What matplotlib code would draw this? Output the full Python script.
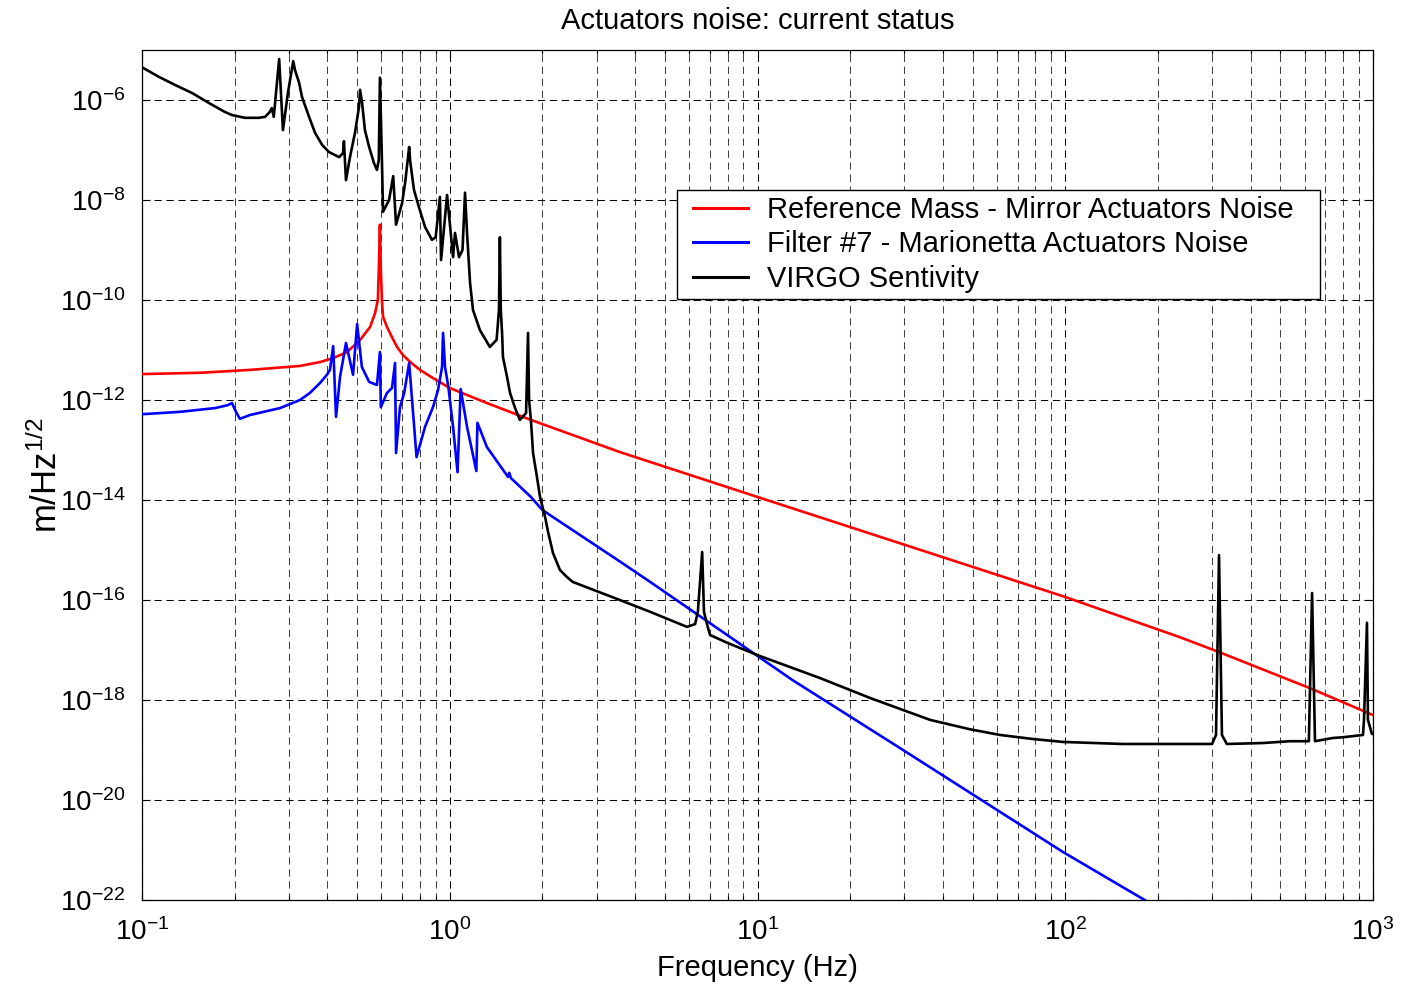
import numpy as np
import matplotlib
matplotlib.use("Agg")
import matplotlib.pyplot as plt
from matplotlib.patches import Rectangle
from matplotlib.ticker import FixedLocator, FuncFormatter, NullLocator

plt.rcParams['font.family'] = ['Liberation Sans', 'DejaVu Sans']
plt.rcParams['mathtext.fontset'] = 'custom'
plt.rcParams['mathtext.rm'] = 'Liberation Sans'
plt.rcParams['mathtext.it'] = 'Liberation Sans:italic'
plt.rcParams['mathtext.bf'] = 'Liberation Sans:bold'

# --- Reference Mass - Mirror actuators noise ---
ref_freq = [0.1, 0.154, 0.224, 0.326, 0.379, 0.418, 0.4636, 0.511, 0.551, 0.572,
            0.584, 0.588, 0.593, 0.597, 0.602, 0.607, 0.625, 0.649, 0.674, 0.705,
            0.743, 0.80, 0.882, 1.0, 1.138, 1.32, 1.835, 3.57, 10.0, 100.0,
            236.0, 316.0, 634.0, 1000.0]
ref_asd = [3.3e-12, 3.5e-12, 4.0e-12, 4.8e-12, 5.75e-12, 6.9e-12, 9.1e-12, 1.58e-11, 2.9e-11, 5.5e-11,
           1.0e-10, 4.0e-10, 3.2e-9, 4.0e-10, 1.0e-10, 4.6e-11, 2.9e-11, 1.8e-11, 1.15e-11, 7.9e-12,
           5.8e-12, 4.0e-12, 2.75e-12, 1.74e-12, 1.26e-12, 8.7e-13, 4.0e-13, 9.1e-14, 1.15e-14, 1.15e-16,
           1.8e-17, 9.1e-18, 1.66e-18, 5.0e-19]

# --- Filter #7 - Marionetta actuators noise ---
mar_freq = [0.1, 0.133, 0.173, 0.19, 0.196, 0.202, 0.208, 0.224, 0.281, 0.326,
            0.351, 0.379, 0.399, 0.408, 0.418, 0.427, 0.44, 0.460, 0.485, 0.50,
            0.518, 0.547, 0.58, 0.593, 0.597, 0.625, 0.649, 0.664, 0.669, 0.689,
            0.711, 0.738, 0.78, 0.831, 0.882, 0.916, 0.944, 0.951, 0.965, 0.99,
            1.025, 1.06, 1.085, 1.138, 1.22, 1.23, 1.32, 1.546, 1.56, 1.58,
            1.835, 2.0, 3.57, 4.48, 13.0, 29.0, 98.4, 186.0]
mar_asd = [5.2e-13, 5.8e-13, 6.9e-13, 7.9e-13, 8.7e-13, 5.8e-13, 4.2e-13, 5.0e-13, 6.9e-13, 1.0e-12,
           1.38e-12, 2.2e-12, 3.2e-12, 4.0e-12, 1.2e-11, 4.6e-13, 2.9e-12, 1.38e-11, 3.2e-12, 3.3e-11,
           4.6e-12, 2.3e-12, 2.0e-12, 9.1e-12, 7.2e-13, 1.38e-12, 1.74e-12, 5.5e-12, 8.7e-14, 7.2e-13,
           1.38e-12, 5.5e-12, 7.2e-14, 2.9e-13, 7.2e-13, 1.58e-12, 4.6e-12, 2.2e-11, 4.6e-12, 1.8e-12,
           2.9e-13, 3.6e-14, 1.66e-12, 2.9e-13, 3.8e-14, 3.5e-13, 1.15e-13, 2.9e-14, 3.5e-14, 2.75e-14,
           1.15e-14, 6.3e-15, 5.9e-16, 2.3e-16, 2.5e-18, 1.1e-19, 9.1e-22, 9.1e-23]

# --- VIRGO sensitivity ---
virgo_freq = [0.1, 0.1135, 0.128, 0.1454, 0.165, 0.186, 0.196, 0.216, 0.240, 0.251,
              0.260, 0.264, 0.268, 0.279, 0.287, 0.298, 0.310, 0.314, 0.324, 0.331,
              0.349, 0.365, 0.385, 0.405, 0.437, 0.450, 0.453, 0.460, 0.474, 0.492,
              0.507, 0.511, 0.519, 0.530, 0.547, 0.567, 0.580, 0.588, 0.593, 0.602,
              0.607, 0.635, 0.655, 0.669, 0.700, 0.716, 0.738, 0.743, 0.765, 0.794,
              0.831, 0.875, 0.90, 0.929, 0.937, 0.980, 1.025, 1.040, 1.072, 1.10,
              1.121, 1.138, 1.164, 1.19, 1.253, 1.35, 1.42, 1.445, 1.455, 1.465,
              1.479, 1.489, 1.535, 1.57, 1.63, 1.69, 1.77, 1.796, 1.81, 1.835,
              1.865, 1.92, 1.965, 2.04, 2.09, 2.165, 2.28, 2.40, 2.51, 3.57,
              4.48, 5.90, 6.27, 6.4, 6.61, 6.7, 6.86, 7.01, 7.96, 10.0,
              15.96, 23.2, 36.4, 49.0, 61.4, 78.5, 98.4, 154.0, 300.0, 309.0,
              316.0, 323.0, 335.0, 439.0, 537.0, 619.0, 634.0, 648.0, 741.0, 799.0,
              928.0, 935.0, 956.0, 963.0, 992.0, 1000.0]
virgo_asd = [4.5e-6, 2.9e-6, 2.0e-6, 1.38e-6, 8.7e-7, 5.75e-7, 5.0e-7, 4.4e-7, 4.4e-7, 4.6e-7,
             5.75e-7, 6.9e-7, 4.6e-7, 6.6e-6, 2.5e-7, 1.4e-6, 6.0e-6, 4.0e-6, 2.2e-6, 1.15e-6,
             4.6e-7, 2.2e-7, 1.26e-7, 9.1e-8, 7.2e-8, 8.7e-8, 1.5e-7, 2.5e-8, 7.2e-8, 2.2e-7,
             7.2e-7, 1.6e-6, 8.7e-7, 2.5e-7, 1.15e-7, 5.5e-8, 4.0e-8, 6.3e-8, 2.8e-6, 6.3e-8,
             5.8e-9, 1.0e-8, 3.0e-8, 3.2e-9, 8.7e-9, 2.2e-8, 1.15e-7, 6.3e-8, 1.6e-8, 7.2e-9,
             2.9e-9, 1.6e-9, 1.8e-9, 1.15e-8, 6.3e-10, 1.26e-8, 7.2e-10, 2.2e-9, 7.2e-10, 1.0e-9,
             1.4e-8, 2.2e-9, 2.2e-10, 6.3e-11, 2.5e-11, 1.15e-11, 1.6e-11, 6.3e-11, 1.8e-9, 6.3e-11,
             2.2e-11, 7.2e-12, 2.9e-12, 1.38e-12, 6.9e-13, 4.0e-13, 5.5e-13, 2.2e-11, 1.0e-12, 4.0e-13,
             8.7e-14, 2.9e-14, 1.15e-14, 4.6e-15, 2.2e-15, 8.7e-16, 4.0e-16, 2.9e-16, 2.3e-16, 1.0e-16,
             5.8e-17, 2.9e-17, 3.3e-17, 5.8e-17, 9.1e-16, 5.8e-17, 3.2e-17, 2.0e-17, 1.4e-17, 7.9e-18,
             2.75e-18, 1.1e-18, 4.0e-19, 2.6e-19, 2.0e-19, 1.66e-19, 1.45e-19, 1.32e-19, 1.32e-19, 2.0e-19,
             7.9e-16, 2.0e-19, 1.32e-19, 1.38e-19, 1.5e-19, 1.5e-19, 1.38e-16, 1.5e-19, 1.74e-19, 1.8e-19,
             2.0e-19, 4.0e-19, 3.5e-17, 4.0e-19, 2.1e-19, 2.1e-19]

x_ticks = [0.1, 1.0, 10.0, 100.0, 1000.0]
x_minor = [m * d for d in [0.1, 1.0, 10.0, 100.0] for m in range(2, 10)]
y_ticks = [10.0 ** e for e in range(-22, -5, 2)]

fig = plt.figure(figsize=(14.02, 9.86), dpi=100)
ax = fig.add_axes([0.1013, 0.0872, 0.8780, 0.8621])
ax.set_xscale('log')
ax.set_yscale('log')

lw = 1.9
ax.plot(ref_freq, ref_asd, color=(1, 0, 0), lw=lw, label='Reference Mass - Mirror Actuators Noise', zorder=3)
ax.plot(mar_freq, mar_asd, color=(0, 0, 1), lw=lw, label='Filter #7 - Marionetta Actuators Noise', zorder=3)
ax.plot(virgo_freq, virgo_asd, color='k', lw=lw, label='VIRGO Sentivity', zorder=4)

ax.set_xlim(0.1, 1000)
ax.set_ylim(1e-22, 1e-5)

ax.xaxis.set_major_locator(FixedLocator(x_ticks))
ax.xaxis.set_minor_locator(FixedLocator(x_minor))
ax.yaxis.set_major_locator(FixedLocator(y_ticks))
ax.yaxis.set_minor_locator(NullLocator())


def dec_label(v, pos):
    e = int(round(np.log10(v)))
    return r'$\mathdefault{10^{%d}}$' % e


ax.xaxis.set_major_formatter(FuncFormatter(dec_label))
ax.xaxis.set_minor_formatter(FuncFormatter(lambda v, p: ''))
ax.yaxis.set_major_formatter(FuncFormatter(dec_label))

dash = (0, (7, 4.5))
ax.grid(True, which='major', axis='both', color='k', lw=0.75, linestyle=dash, zorder=1)
ax.grid(True, which='minor', axis='x', color='0.25', lw=0.75, linestyle=dash, zorder=1)

ax.tick_params(which='both', direction='in', top=True, right=True, width=0.8)
ax.tick_params(which='major', length=6)
ax.tick_params(which='minor', length=3)
ax.tick_params(axis='x', which='major', labelsize=20, pad=13)
ax.tick_params(axis='y', which='major', labelsize=20, pad=12)
for s in ax.spines.values():
    s.set_linewidth(0.9)

ax.set_title('Actuators noise: current status', fontsize=21, pad=15)
ax.set_xlabel('Frequency (Hz)', fontsize=21, labelpad=6)
ax.set_ylabel(r'm/Hz$^{\mathdefault{1/2}}$', fontsize=25, labelpad=-3)

# legend box (white, black edge) with the entries placed inside it
ax.add_patch(Rectangle((0.4346, 0.7071), 0.5223, 0.1282, transform=ax.transAxes,
                       facecolor='white', edgecolor='k', lw=1.0, zorder=5, clip_on=False))
leg = ax.legend(loc='upper left', bbox_to_anchor=(0.4476, 0.8282), fontsize=21,
                frameon=False, borderpad=0.0, labelspacing=0.22,
                handlelength=1.9, handletextpad=0.65, borderaxespad=0.0)
leg.set_zorder(6)
for h in leg.get_lines():
    h.set_linewidth(2.2)

fig.savefig('out.png', dpi=100)
